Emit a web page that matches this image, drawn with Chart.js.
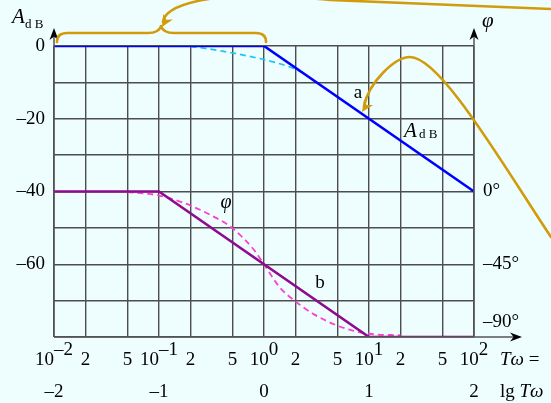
<!DOCTYPE html>
<html>
<head>
<meta charset="utf-8">
<script src="https://cdn.jsdelivr.net/npm/chart.js@4/dist/chart.umd.min.js"></script>
<style>
  html, body { margin: 0; padding: 0; background: #eefefe; }
  canvas { display: block; }
</style>
</head>
<body>
<canvas id="c" width="551" height="403"></canvas>
<script>
// ---- data ----
const xTickValues = [0.01, 0.02, 0.05, 0.1, 0.2, 0.5, 1, 2, 5, 10, 20, 50, 100];
const xTickBase   = ['10', '2', '5', '10', '2', '5', '10', '2', '5', '10', '2', '5', '10'];
const xTickExp    = ['–2', '', '', '–1', '', '', '0', '', '', '1', '', '', '2'];
const decadeValues = [0.01, 0.1, 1, 10, 100];
const lgLabels     = ['–2', '–1', '0', '1', '2'];
const dbTicks      = [0, -20, -40, -60];
const phaseTicks   = [0, -45, -90];
const phaseLabels  = ['0°', '–45°', '–90°'];

// amplitude (dB)
const ampAsymX  = [0.01, 1, 100];
const ampAsymY  = [0, 0, -40];
const ampExactX = [0.2, 0.23, 0.4, 0.77, 1, 1.2, 1.5, 2, 2.4];
const ampExactY = [-0.2, -0.36, -1.4, -3.0, -3.7, -4.3, -5.1, -6.4, -7.5];

// phase (degrees)
const phAsymX  = [0.01, 0.1, 10, 100];
const phAsymY  = [0, 0, -90, -90];
const phExactX = [0.05, 0.08, 0.1, 0.165, 0.29, 0.5, 0.8, 1, 1.4, 2, 3, 5, 7, 10, 20];
const phExactY = [-0.3, -1.5, -2.5, -6.6, -13.6, -22.7, -36, -45, -59, -68, -76, -83, -86, -88, -89];

const pts = (xs, ys) => xs.map((x, i) => ({ x: x, y: ys[i] }));
const SERIF = '"Liberation Serif", "DejaVu Serif", serif';
const GOLD = '#d19b0b';

function arrowHead(ctx, x, y, dx, dy, len, half) {
  const n = Math.hypot(dx, dy); dx /= n; dy /= n;
  const px = -dy, py = dx;
  ctx.beginPath();
  ctx.moveTo(x, y);
  ctx.lineTo(x - dx * len + px * half, y - dy * len + py * half);
  ctx.lineTo(x - dx * len * 0.7, y - dy * len * 0.7);
  ctx.lineTo(x - dx * len - px * half, y - dy * len - py * half);
  ctx.closePath();
  ctx.fill();
}

const bgPlugin = {
  id: 'bg',
  beforeDraw(chart) {
    const c = chart.ctx;
    c.save();
    c.fillStyle = '#eefefe';
    c.fillRect(0, 0, chart.width, chart.height);
    c.restore();
  }
};

const decoPlugin = {
  id: 'deco',
  afterDraw(chart) {
    const c = chart.ctx;
    const a = chart.chartArea;
    const xs = chart.scales.x, y2 = chart.scales.y2;
    c.save();

    // axes with arrows
    c.strokeStyle = '#555'; c.lineWidth = 1.5; c.fillStyle = '#000';
    c.beginPath();
    c.moveTo(a.left, a.bottom); c.lineTo(a.left, a.top - 12);
    c.moveTo(a.right, a.bottom); c.lineTo(a.right, a.top - 12);
    c.moveTo(a.left, a.bottom); c.lineTo(a.right + 40, a.bottom);
    c.stroke();
    arrowHead(c, a.left, a.top - 18, 0, -1, 12, 4.5);
    arrowHead(c, a.right, a.top - 18, 0, -1, 12, 4.5);
    arrowHead(c, a.right + 48, a.bottom, 1, 0, 12, 4.5);

    c.fillStyle = '#000';
    // x tick labels (row 1: Tω, row 2: lg Tω)
    c.textBaseline = 'alphabetic';
    const f = '19px ' + SERIF;
    xTickValues.forEach((v, i) => {
      const px = xs.getPixelForValue(v);
      c.font = f;
      const wb = c.measureText(xTickBase[i]).width;
      const we = xTickExp[i] ? c.measureText(xTickExp[i]).width : 0;
      const x0 = px - (wb + we) / 2;
      c.textAlign = 'left';
      c.fillText(xTickBase[i], x0, a.bottom + 28);
      if (xTickExp[i]) c.fillText(xTickExp[i], x0 + wb, a.bottom + 18);
    });
    c.textAlign = 'center';
    decadeValues.forEach((v, i) => {
      c.fillText(lgLabels[i], xs.getPixelForValue(v), a.bottom + 60);
    });
    // axis variable names
    c.textAlign = 'left';
    let x = a.right + 26;
    c.font = 'italic 19px ' + SERIF;
    c.fillText('Tω', x, a.bottom + 28);
    let w = c.measureText('Tω').width;
    c.font = f;
    c.fillText(' =', x + w, a.bottom + 28);
    c.fillText('lg ', x, a.bottom + 60);
    w = c.measureText('lg ').width;
    c.font = 'italic 19px ' + SERIF;
    c.fillText('Tω', x + w, a.bottom + 60);

    // right phase labels
    c.font = f;
    c.textBaseline = 'middle';
    phaseTicks.forEach((v, i) => {
      let py = y2.getPixelForValue(v);
      if (v === -90) py -= 15;
      c.fillText(phaseLabels[i], a.right + 9, py);
    });

    // axis titles
    c.textBaseline = 'alphabetic';
    c.font = 'italic 21px ' + SERIF;
    c.fillText('A', a.left - 42, a.top - 23);
    c.font = '13px ' + SERIF;
    c.fillText('d B', a.left - 29, a.top - 18);
    c.font = 'italic 21px ' + SERIF;
    c.fillText('φ', a.right + 8, a.top - 19);

    // curve annotations
    c.font = '19px ' + SERIF;
    c.textAlign = 'center';
    c.fillText('a', a.left + 304, a.top + 52);
    c.fillText('b', a.left + 266, a.top + 242);
    c.font = 'italic 20px ' + SERIF;
    c.fillText('φ', a.left + 172, a.top + 162);
    c.textAlign = 'left';
    c.font = 'italic 21px ' + SERIF;
    c.fillText('A', a.left + 350, a.top + 91);
    c.font = '13px ' + SERIF;
    c.fillText('d B', a.left + 365, a.top + 92);

    // golden decorations
    c.strokeStyle = GOLD; c.fillStyle = GOLD; c.lineWidth = 2.6;
    c.lineCap = 'round'; c.lineJoin = 'round';
    // brace over the flat part
    c.beginPath();
    c.moveTo(57, 42);
    c.quadraticCurveTo(57, 33, 67, 33);
    c.lineTo(148, 33);
    c.quadraticCurveTo(159, 33, 161, 26);
    c.quadraticCurveTo(163, 33, 174, 33);
    c.lineTo(256, 33);
    c.quadraticCurveTo(266, 33, 266, 42);
    c.stroke();
    // big arrow coming from the top-right into the brace
    c.beginPath();
    c.moveTo(551, 9);
    c.lineTo(330, 0);
    c.quadraticCurveTo(270, -6, 215, -2);
    c.quadraticCurveTo(165, 5, 163, 22);
    c.stroke();
    arrowHead(c, 162, 27, -0.5, 0.86, 12, 5.5);
    // arrow to point a
    c.beginPath();
    c.moveTo(551, 237);
    c.bezierCurveTo(500, 160, 440, 57, 410, 57);
    c.bezierCurveTo(395, 57, 369, 82, 364, 106);
    c.stroke();
    arrowHead(c, 362, 112, -0.55, 0.83, 12, 5.5);

    c.restore();
  }
};

new Chart(document.getElementById('c'), {
  type: 'line',
  data: {
    datasets: [
      { label: 'A_dB asymptote', data: pts(ampAsymX, ampAsymY), yAxisID: 'y',
        borderColor: '#0000ff', borderWidth: 2.6, pointRadius: 0, tension: 0 },
      { label: 'A_dB exact', data: pts(ampExactX, ampExactY), yAxisID: 'y',
        borderColor: '#1ec6f4', borderWidth: 1.7, borderDash: [6, 4], pointRadius: 0,
        cubicInterpolationMode: 'monotone' },
      { label: 'φ asymptote', data: pts(phAsymX, phAsymY), yAxisID: 'y2',
        borderColor: '#8e0a8e', borderWidth: 2.6, pointRadius: 0, tension: 0 },
      { label: 'φ exact', data: pts(phExactX, phExactY), yAxisID: 'y2',
        borderColor: '#ff3fcf', borderWidth: 1.8, borderDash: [6, 4], pointRadius: 0,
        cubicInterpolationMode: 'monotone' }
    ]
  },
  options: {
    responsive: false,
    animation: false,
    parsing: true,
    layout: { padding: { top: 46, right: 77, left: 0, bottom: 0 } },
    plugins: { legend: { display: false }, tooltip: { enabled: false } },
    scales: {
      x: {
        type: 'logarithmic', min: 0.01, max: 100,
        afterBuildTicks: s => { s.ticks = xTickValues.map(v => ({ value: v })); },
        ticks: { display: false },
        grid: { color: '#4d4d4d', lineWidth: 1.4, drawTicks: false },
        border: { display: false },
        afterFit: s => { s.height = 66; }
      },
      y: {
        min: -80, max: 0,
        ticks: {
          stepSize: 10,
          color: '#000',
          padding: 9,
          font: { family: SERIF, size: 19 },
          callback: v => dbTicks.includes(v) ? (v === 0 ? '0' : '–' + Math.abs(v)) : ''
        },
        grid: { color: '#4d4d4d', lineWidth: 1.4, drawTicks: false },
        border: { display: false },
        afterFit: s => { s.width = 54; }
      },
      y2: { min: -90, max: 90, display: false, position: 'right' }
    }
  },
  plugins: [bgPlugin, decoPlugin]
});
</script>
</body>
</html>
